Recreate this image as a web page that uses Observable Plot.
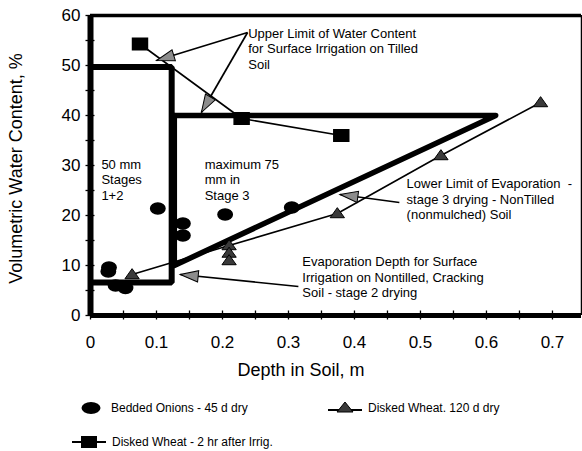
<!DOCTYPE html>
<html><head><meta charset="utf-8">
<script src="https://cdn.jsdelivr.net/npm/d3@7"></script>
<script src="https://cdn.jsdelivr.net/npm/@observablehq/plot@0.6"></script>
<style>
body{margin:0;background:#fff;font-family:"Liberation Sans",Arial,sans-serif;}
#wrap{position:relative;width:582px;height:451px;overflow:hidden;}
#legend{position:absolute;left:0;top:385px;width:582px;height:66px;font-size:12px;color:#000;}
.li{position:absolute;white-space:nowrap;line-height:16px;}
.ls{position:absolute;}
</style></head><body>
<div id="wrap"><div id="chart"></div><div id="legend"></div></div>
<script>
// ---------- data ----------
const onionDepth = [0.028, 0.027, 0.038, 0.053, 0.102, 0.140, 0.140, 0.204, 0.305];
const onionWC    = [9.6, 8.8, 6.0, 5.5, 21.4, 18.4, 16.0, 20.2, 21.6];

const wheat2hDepth = [0.075, 0.229, 0.380];
const wheat2hWC    = [54.3, 39.4, 36.0];

const wheat120Depth = [0.063, 0.210, 0.210, 0.210, 0.374, 0.531, 0.682];
const wheat120WC    = [8.2, 14.0, 12.5, 11.0, 20.4, 32.0, 42.6];

// limit (boundary) lines
const stage12Depth = [0, 0.123, 0.123, 0];
const stage12WC    = [49.7, 49.7, 6.6, 6.6];
const stage3Depth  = [0.128, 0.614, 0.127, 0.127];
const stage3WC     = [40, 40, 10.0, 40];

// axis ticks
const xTickValues = [0, 0.1, 0.2, 0.3, 0.4, 0.5, 0.6, 0.7];
const xTickLabels = ["0", "0.1", "0.2", "0.3", "0.4", "0.5", "0.6", "0.7"];
const xMinorTicks = [0, 0.05, 0.1, 0.15, 0.2, 0.25, 0.3, 0.35, 0.4, 0.45, 0.5, 0.55, 0.6, 0.65, 0.7];
const yTickValues = [0, 10, 20, 30, 40, 50, 60];
const yMinorTicks = [0, 5, 10, 15, 20, 25, 30, 35, 40, 45, 50, 55, 60];

// annotations
const annText = [
  "Upper Limit of Water Content\nfor Surface Irrigation on Tilled\nSoil",
  "50 mm\nStages\n1+2",
  "maximum 75\nmm in\nStage 3",
  "Lower Limit of Evaporation  -\nstage 3 drying - NonTilled\n(nonmulched) Soil",
  "Evaporation Depth for Surface\nIrrigation on Nontilled, Cracking\nSoil - stage 2 drying"
];
const annX = [0.239, 0.0165, 0.173, 0.479, 0.321];
const annY = [57.7, 31.5, 31.5, 27.6, 12.0];

// callout arrows (from text to tip)
const arrowX1 = [0.238, 0.238, 0.468, 0.315];
const arrowY1 = [56.6, 56.6, 22.6, 5.8];
const arrowX2 = [0.100, 0.168, 0.378, 0.136];
const arrowY2 = [51.0, 40.6, 24.2, 8.2];

const legendLabels = ["Bedded Onions - 45 d dry", "Disked Wheat. 120 d dry", "Disked Wheat - 2 hr after Irrig."];

// ---------- layout ----------
const W = 582, H = 385, ML = 90, MR = 1, MT = 15, MB = 70;
const xMax = 0.744, yMax = 60;
const kx = (W - ML - MR) / xMax, ky = (H - MT - MB) / yMax;

const onions = onionDepth.map((d, i) => ({x: d, y: onionWC[i]}));
const wheat2h = wheat2hDepth.map((d, i) => ({x: d, y: wheat2hWC[i]}));
const wheat120 = wheat120Depth.map((d, i) => ({x: d, y: wheat120WC[i]}));
const topAtDepth = d3.rollup(wheat120, v => d3.max(v, d => d.y), d => d.x);
const wheat120Line = wheat120.filter(d => d.y === topAtDepth.get(d.x));
const stage12 = stage12Depth.map((d, i) => ({x: d, y: stage12WC[i]}));
const stage3 = stage3Depth.map((d, i) => ({x: d, y: stage3WC[i]}));
const anns = annText.map((t, i) => ({t, x: annX[i], y: annY[i]}));
const arrows = arrowX1.map((d, i) => ({
  x1: d, y1: arrowY1[i], x2: arrowX2[i], y2: arrowY2[i],
  a: Math.atan2(-(arrowY2[i] - arrowY1[i]) * ky, (arrowX2[i] - d) * kx) * 180 / Math.PI
}));

// ---------- symbols ----------
const ellipseSym = {draw(c, size) {
  const r = Math.sqrt(size / Math.PI), rx = r * 1.2, ry = r * 0.9, k = 0.5523;
  c.moveTo(rx, 0);
  c.bezierCurveTo(rx, ry * k, rx * k, ry, 0, ry);
  c.bezierCurveTo(-rx * k, ry, -rx, ry * k, -rx, 0);
  c.bezierCurveTo(-rx, -ry * k, -rx * k, -ry, 0, -ry);
  c.bezierCurveTo(rx * k, -ry, rx, -ry * k, rx, 0);
  c.closePath();
}};
const rectSym = {draw(c, size) {
  const r = Math.sqrt(size / Math.PI), w = r * 2.3, h = r * 1.75;
  c.rect(-w / 2, -h / 2, w, h);
}};
const triSym = {draw(c, size) {
  const r = Math.sqrt(size / Math.PI);
  c.moveTo(0, -r * 0.9); c.lineTo(r * 1.1, r * 0.65); c.lineTo(-r * 1.1, r * 0.65); c.closePath();
}};
const headSym = {draw(c, size) {
  const r = Math.sqrt(size / Math.PI), L = r * 3, h = r * 0.95;
  c.moveTo(0, 0); c.lineTo(-L, -h); c.lineTo(-L, h); c.closePath();
}};

const FONT = "'Liberation Sans', Arial, sans-serif";
const TRI_FILL = "#3a3a3a", HEAD_FILL = "#8c8c8c";

const chart = Plot.plot({
  width: W, height: H,
  marginLeft: ML, marginRight: MR, marginTop: MT, marginBottom: MB,
  style: {fontFamily: FONT, background: "#fff", color: "#000"},
  x: {domain: [0, xMax], label: null},
  y: {domain: [0, yMax], label: null},
  marks: [
    // frame
    Plot.ruleY([yMax], {stroke: "#000", strokeWidth: 3.5}),
    Plot.ruleX([xMax], {stroke: "#000", strokeWidth: 1.5}),
    // limit lines
    Plot.line(stage12, {x: "x", y: "y", stroke: "#000", strokeWidth: 6, strokeLinejoin: "miter", strokeLinecap: "butt"}),
    Plot.line(stage3, {x: "x", y: "y", stroke: "#000", strokeWidth: 5.5, strokeLinejoin: "round", strokeLinecap: "round"}),
    // series lines
    Plot.line(wheat2h, {x: "x", y: "y", stroke: "#000", strokeWidth: 1.6}),
    Plot.line(wheat120Line, {x: "x", y: "y", stroke: "#000", strokeWidth: 1.6}),
    // callout lines
    Plot.link(arrows, {x1: "x1", y1: "y1", x2: "x2", y2: "y2", stroke: "#000", strokeWidth: 1.7}),
    Plot.dot(arrows, {x: "x2", y: "y2", rotate: "a", symbol: headSym, r: 6, fill: HEAD_FILL, stroke: "#000", strokeWidth: 1}),
    // markers
    Plot.dot(onions, {x: "x", y: "y", symbol: ellipseSym, r: 6, fill: "#000", stroke: "#000"}),
    Plot.dot(wheat2h, {x: "x", y: "y", symbol: rectSym, r: 6.5, fill: "#000", stroke: "#000"}),
    Plot.dot(wheat120, {x: "x", y: "y", symbol: triSym, r: 6.5, fill: TRI_FILL, stroke: "#000", strokeWidth: 1}),
    // axes lines
    Plot.ruleX([0], {stroke: "#000", strokeWidth: 6}),
    Plot.ruleY([0], {stroke: "#000", strokeWidth: 5}),
    // tick marks crossing axes
    Plot.axisY({ticks: yMinorTicks, tickSize: 9, dx: 4.5, tickFormat: () => "", label: null, strokeWidth: 1.3}),
    Plot.axisX({ticks: xMinorTicks, tickSize: 9, dy: -4.5, tickFormat: () => "", label: null, strokeWidth: 1.3}),
    // tick labels
    Plot.axisY({ticks: yTickValues, tickSize: 0, tickPadding: 10, fontSize: 17, label: null}),
    Plot.axisX({ticks: xTickValues, tickSize: 0, tickPadding: 20, fontSize: 17, label: null,
      tickFormat: d => xTickLabels[xTickValues.indexOf(d)]}),
    // axis titles
    Plot.text(["Depth in Soil, m"], {frameAnchor: "bottom", textAnchor: "middle", lineAnchor: "middle", dx: -35, dy: 55, fontSize: 18, fill: "#000"}),
    Plot.text(["Volumetric Water Content, %"], {frameAnchor: "left", textAnchor: "middle", lineAnchor: "middle", rotate: -90, dx: -74, dy: 3, fontSize: 18, fill: "#000"}),
    // annotation texts
    Plot.text(anns, {x: "x", y: "y", text: "t", textAnchor: "start", lineAnchor: "top", fontSize: 13, lineHeight: 1.18, fill: "#000"})
  ]
});
document.getElementById("chart").appendChild(chart);

// ---------- legend ----------
const legend = document.getElementById("legend");
const items = [
  {label: legendLabels[0], left: 78, top: 23, textLeft: 111,
   svg: `<svg width="26" height="16"><ellipse cx="13" cy="8" rx="9.5" ry="6" fill="#000"/></svg>`},
  {label: legendLabels[1], left: 326, top: 23, textLeft: 368,
   svg: `<svg width="38" height="16"><line x1="2" y1="10" x2="36" y2="10" stroke="#000" stroke-width="2"/><path d="M19 2 L27 12 L11 12 Z" fill="${TRI_FILL}" stroke="#000"/></svg>`},
  {label: legendLabels[2], left: 70, top: 57, textLeft: 112,
   svg: `<svg width="38" height="16"><line x1="2" y1="8" x2="36" y2="8" stroke="#000" stroke-width="2"/><rect x="11" y="2" width="16" height="12" fill="#000"/></svg>`}
];
for (const it of items) {
  const s = document.createElement("div");
  s.className = "ls"; s.style.left = it.left + "px"; s.style.top = (it.top - 8) + "px";
  s.innerHTML = it.svg; legend.appendChild(s);
  const t = document.createElement("div");
  t.className = "li"; t.style.left = it.textLeft + "px"; t.style.top = (it.top - 8) + "px";
  t.textContent = it.label; legend.appendChild(t);
}
</script>
</body></html>
